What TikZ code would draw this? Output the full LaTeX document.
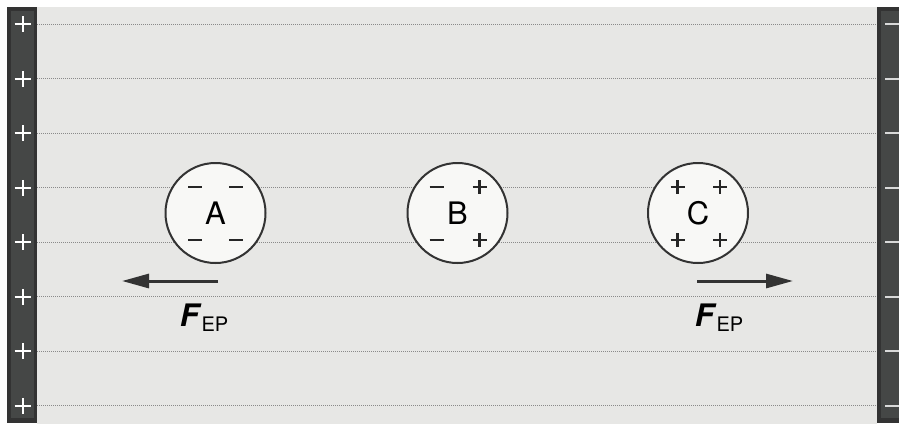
\documentclass[tikz,border=0pt]{standalone}
\usepackage{fontspec}
\setmainfont{TeX Gyre Heros}
\usetikzlibrary{arrows.meta}
\definecolor{bggray}{HTML}{E7E7E5}
\definecolor{platedark}{HTML}{333333}
\definecolor{plateinner}{HTML}{454746}
\definecolor{ballfill}{HTML}{F8F8F6}
\definecolor{fieldline}{HTML}{8A8A8A}
\tikzset{
  field/.style={draw=fieldline, line width=0.9pt, dash pattern=on 1pt off 1pt},
  platesign/.style={draw=white, line width=2pt},
  minussign/.style={draw=white!85!black, line width=1.8pt},
  charge/.style={draw=black!85, line width=2.2pt},
  ball/.style={circle, draw=platedark, line width=2pt, fill=ballfill, minimum size=100pt, inner sep=0pt, font=\fontsize{31}{32}\selectfont},
  force/.style={draw=platedark, line width=3pt, -{Triangle[length=27pt,width=14pt]}},
  flabel/.style={font=\fontsize{31}{30}\selectfont, inner sep=0pt}
}
\newcommand{\Fep}{\textbf{\textit{F}}\raisebox{-5pt}{\fontsize{20}{20}\selectfont EP}}
\newcommand{\mneg}{\draw[charge] (-7,0) -- (7,0);}
\newcommand{\mpos}{\draw[charge] (-7,0) -- (7,0); \draw[charge] (0,-7) -- (0,7);}
\begin{document}
\begin{tikzpicture}[x=1pt,y=-1pt]
\useasboundingbox (0,0) rectangle (899,424);
\fill[white] (0,0) rectangle (899,424);
\fill[bggray] (37,7) rectangle (877,424);
% plates
\fill[platedark] (7,7) rectangle (37,423);
\fill[plateinner] (11,11) rectangle (34,418);
\fill[platedark] (877,7) rectangle (899,423);
\fill[plateinner] (881,11) rectangle (899,418);
% field lines and plate signs
\foreach \yy in {24.3,78.8,133.3,187.8,242.3,296.8,351.3,405.8}{
  \draw[field] (37,\yy) -- (877,\yy);
  \draw[platesign] (14.5,\yy) -- (30.5,\yy);
  \draw[platesign] (22.5,\yy-8) -- (22.5,\yy+8);
  \draw[minussign] (885,\yy) -- (899,\yy);
}
% balls
\node[ball] (A) at (215.5,213) {A};
\node[ball] (B) at (457.5,213) {B};
\node[ball] (C) at (698,213) {C};
% charges A
\begin{scope}[shift={(A.center)}]
  \begin{scope}[shift={(-20.5,-26)}]\mneg\end{scope}
  \begin{scope}[shift={(20.5,-26)}]\mneg\end{scope}
  \begin{scope}[shift={(-20.5,27)}]\mneg\end{scope}
  \begin{scope}[shift={(20.5,27)}]\mneg\end{scope}
\end{scope}
% charges B
\begin{scope}[shift={(B.center)}]
  \begin{scope}[shift={(-21,-26)}]\mneg\end{scope}
  \begin{scope}[shift={(22,-26)}]\mpos\end{scope}
  \begin{scope}[shift={(-21,27)}]\mneg\end{scope}
  \begin{scope}[shift={(22,27)}]\mpos\end{scope}
\end{scope}
% charges C
\begin{scope}[shift={(C.center)}]
  \begin{scope}[shift={(-20.5,-26)}]\mpos\end{scope}
  \begin{scope}[shift={(22,-26)}]\mpos\end{scope}
  \begin{scope}[shift={(-20.5,27)}]\mpos\end{scope}
  \begin{scope}[shift={(22,27)}]\mpos\end{scope}
\end{scope}
% forces
\coordinate (aS) at (218,281);
\coordinate (aE) at (122,281);
\coordinate (cS) at (697,281);
\coordinate (cE) at (793,281);
\draw[force] (aS) -- (aE);
\draw[force] (cS) -- (cE);
\node[flabel] (fa) at (204,318) {\Fep};
\node[flabel] (fc) at (719,318) {\Fep};
\end{tikzpicture}
\end{document}
